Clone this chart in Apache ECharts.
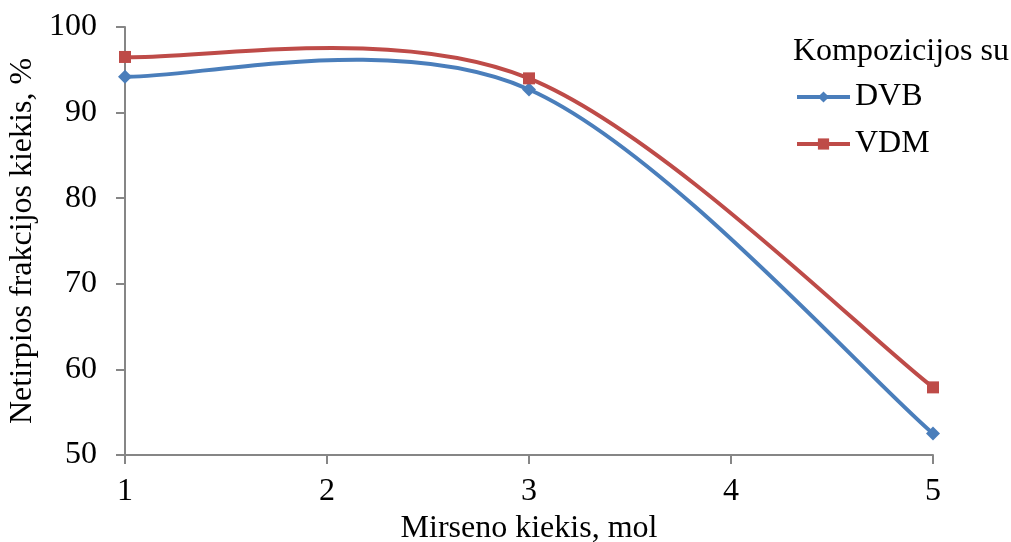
<!DOCTYPE html>
<html>
<head>
<meta charset="utf-8">
<script src="https://cdn.jsdelivr.net/npm/echarts@6/dist/echarts.min.js"></script>
<style>
  html, body { margin: 0; padding: 0; background: #fff; }
  #chart { width: 1011px; height: 542px; }
</style>
</head>
<body>
<div id="chart"></div>
<script>
// Mirseno kiekis (mol) at each measurement
const mirsenas = [1, 3, 5];
// Netirpios frakcijos kiekis, %
const dvb = [94.2, 92.7, 52.5];
const vdm = [96.5, 94.0, 57.9];

const font = 'Liberation Serif, Times New Roman, serif';
const axisGray = '#868686';
const blue = '#4a7ebb';
const red = '#be4b48';
const fs = 32;

function pairs(xs, ys) {
  return xs.map((x, i) => [x, ys[i]]);
}

// Smoothed curve: cubic Bezier segments with Catmull-Rom style (1/6) tangents,
// computed in pixel space from the axis scales.
function curveSeries(ys, color) {
  return {
    type: 'custom',
    coordinateSystem: 'cartesian2d',
    z: 1,
    silent: true,
    data: pairs(mirsenas, ys),
    renderItem: function (params, api) {
      const i = params.dataIndex;
      const n = mirsenas.length;
      if (i >= n - 1) return null;
      const pt = (k) => {
        const j = Math.max(0, Math.min(n - 1, k));
        return api.coord([mirsenas[j], ys[j]]);
      };
      const p0 = pt(i - 1), p1 = pt(i), p2 = pt(i + 1), p3 = pt(i + 2);
      return {
        type: 'bezierCurve',
        shape: {
          x1: p1[0], y1: p1[1],
          x2: p2[0], y2: p2[1],
          cpx1: p1[0] + (p2[0] - p0[0]) / 6,
          cpy1: p1[1] + (p2[1] - p0[1]) / 6,
          cpx2: p2[0] - (p3[0] - p1[0]) / 6,
          cpy2: p2[1] - (p3[1] - p1[1]) / 6
        },
        style: { stroke: color, lineWidth: 4, fill: null, lineCap: 'round' }
      };
    }
  };
}

const chart = echarts.init(document.getElementById('chart'));
chart.setOption({
  animation: false,
  title: {
    text: 'Kompozicijos su',
    left: 788,
    top: 31,
    textStyle: { fontFamily: font, fontSize: fs, fontWeight: 'normal', color: '#000' }
  },
  legend: {
    orient: 'vertical',
    left: 790,
    top: 76,
    itemWidth: 53,
    itemHeight: 14,
    itemGap: 15,
    lineStyle: { opacity: 1, width: 4 },
    textStyle: { fontFamily: font, fontSize: fs, color: '#000' },
    data: ['DVB', 'VDM']
  },
  grid: { left: 125, right: 78, top: 27, bottom: 87, containLabel: false, outerBoundsMode: 'none' },
  xAxis: {
    type: 'value',
    min: 1,
    max: 5,
    interval: 1,
    name: 'Mirseno kiekis, mol',
    nameLocation: 'middle',
    nameGap: 55,
    nameTextStyle: { fontFamily: font, fontSize: fs, color: '#000' },
    axisLine: { lineStyle: { color: axisGray, width: 2 } },
    axisTick: { lineStyle: { color: axisGray, width: 2 }, length: 9 },
    axisLabel: { fontFamily: font, fontSize: fs, color: '#000', margin: 21 },
    splitLine: { show: false }
  },
  yAxis: {
    type: 'value',
    min: 50,
    max: 100,
    interval: 10,
    name: 'Netirpios frakcijos kiekis, %',
    nameLocation: 'middle',
    nameGap: 80,
    nameTextStyle: { fontFamily: font, fontSize: fs, color: '#000' },
    axisLine: { show: true, lineStyle: { color: axisGray, width: 2 } },
    axisTick: { show: true, lineStyle: { color: axisGray, width: 2 }, length: 9 },
    axisLabel: { fontFamily: font, fontSize: fs, color: '#000', margin: 28 },
    splitLine: { show: false }
  },
  series: [
    {
      name: 'DVB',
      type: 'line',
      z: 3,
      data: pairs(mirsenas, dvb),
      symbol: 'diamond',
      symbolSize: 14,
      lineStyle: { color: blue, width: 4, opacity: 0 },
      itemStyle: { color: blue }
    },
    {
      name: 'VDM',
      type: 'line',
      z: 3,
      data: pairs(mirsenas, vdm),
      symbol: 'rect',
      symbolSize: 12,
      lineStyle: { color: red, width: 4, opacity: 0 },
      itemStyle: { color: red }
    },
    curveSeries(dvb, blue),
    curveSeries(vdm, red)
  ]
});
</script>
</body>
</html>
